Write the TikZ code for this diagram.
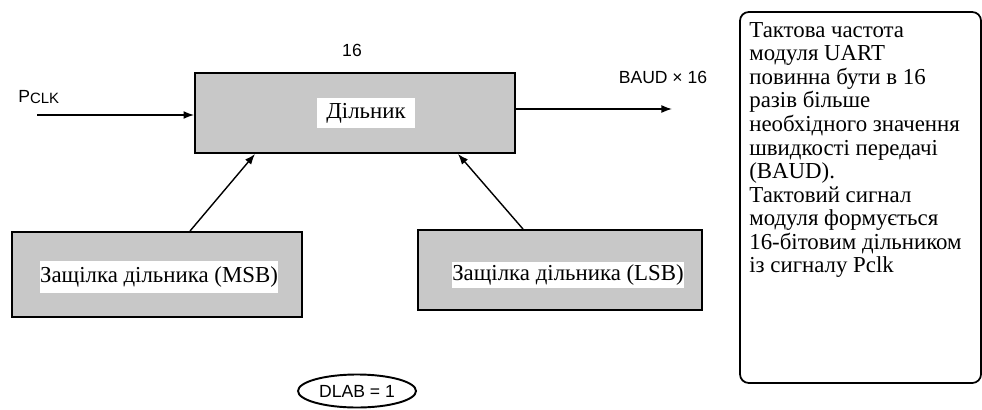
\documentclass[tikz,border=0pt]{standalone}
\usepackage{fontspec}
\setmainfont{Liberation Serif}
\setsansfont{Liberation Sans}
\usetikzlibrary{calc, positioning, shapes.geometric, arrows.meta}
\definecolor{latchgray}{RGB}{200,200,200}

\begin{document}
\begin{tikzpicture}[x=0.02cm, y=-0.02cm,
  block/.style={draw=black, line width=1.1pt, fill=latchgray, inner sep=0pt},
  tag/.style={fill=white, inner sep=0pt, font=\fontsize{13}{15}\selectfont},
  sig/.style={font=\sffamily\fontsize{10}{12}\selectfont, inner sep=0pt},
  link/.style={line width=0.8pt, -{Latex[length=6pt, width=4.5pt]}},
  note/.style={draw=black, line width=1pt, rounded corners=5pt},
]
\useasboundingbox (0,0) rectangle (982,409);

\node[block, minimum width=6.4cm, minimum height=1.6cm] (div) at (355,113) {};
\node[tag, minimum width=1.96cm, minimum height=0.6cm] (divtag) at (366,113) {Дільник};

\node[block, minimum width=5.8cm, minimum height=1.7cm] (msb) at (157,274.5) {};
\node[tag, minimum width=4.64cm, minimum height=0.64cm] (msbtag) at (159,277) {Защілка дільника (MSB)};

\node[block, minimum width=5.68cm, minimum height=1.6cm] (lsb) at (560,270) {};
\node[tag, minimum width=4.46cm, minimum height=0.52cm] (lsbtag) at (568,275) {Защілка дільника (LSB)};

\node[sig] (width) at (352,50) {16};
\node[sig, anchor=west] (pclk) at (18,97) {P{\fontsize{8.5}{9}\selectfont\raisebox{-1pt}{CLK}}};
\node[sig] (baud) at (663,77) {BAUD × 16};
\node[sig, draw, ellipse, line width=1.1pt, minimum width=2.36cm, minimum height=0.66cm] (dlab) at (357,391) {DLAB = 1};

\coordinate (clkin) at (37,115);
\coordinate (baudout) at (672,109);
\draw[link] (clkin) -- (clkin -| div.west);
\draw[link] (baudout -| div.east) -- (baudout);
\draw[link] ([xshift=0.66cm]msb.north) -- ([xshift=-2cm]div.south);
\draw[link] ([xshift=-0.74cm]lsb.north) -- ([xshift=2.06cm]div.south);

\draw[note] (740,12) rectangle (981,383);
\node[anchor=north west, inner sep=0pt, align=left, font=\fontsize{13}{13.4}\selectfont] (notetext) at (749,22) {Тактова частота\\модуля UART\\повинна бути в 16\\разів більше\\необхідного значення\\швидкості передачі\\(BAUD).\\Тактовий сигнал\\модуля формується\\16-бітовим дільником\\із сигналу Pclk};
\end{tikzpicture}
\end{document}
